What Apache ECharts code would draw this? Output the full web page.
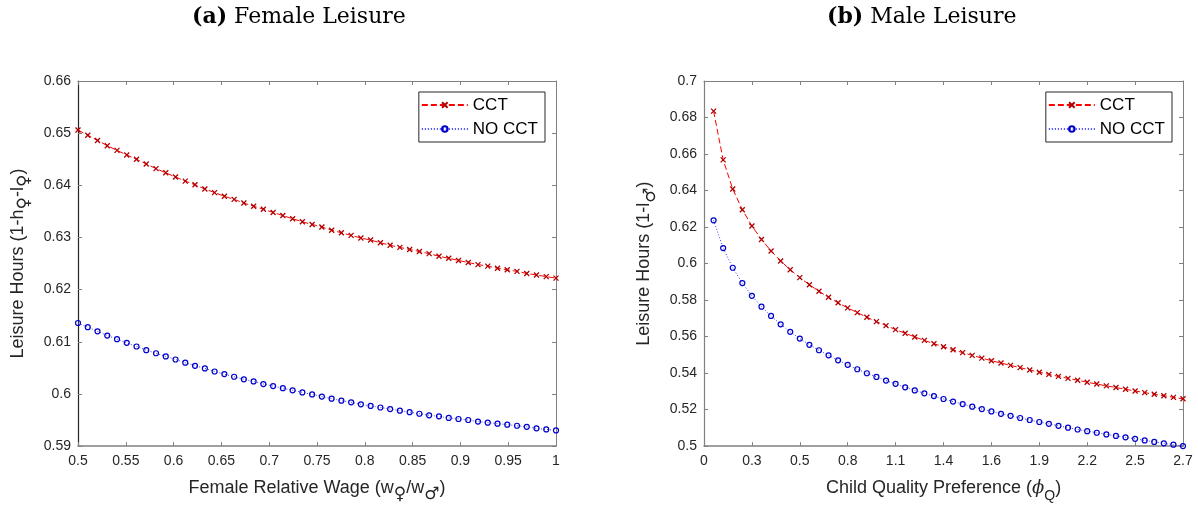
<!DOCTYPE html>
<html>
<head>
<meta charset="utf-8">
<title>Leisure</title>
<script src="https://cdn.jsdelivr.net/npm/echarts@6/dist/echarts.min.js"></script>
<style>
    html, body { margin: 0; padding: 0; background: #fff; }
    #main { width: 1198px; height: 508px; }
</style>
</head>
<body>
<div id="main"></div>
<script>
// (a) Female Leisure: x = female relative wage
var wageX = [0.5000, 0.5102, 0.5204, 0.5306, 0.5408, 0.5510, 0.5612, 0.5714, 0.5816, 0.5918,
    0.6020, 0.6122, 0.6224, 0.6327, 0.6429, 0.6531, 0.6633, 0.6735, 0.6837, 0.6939,
    0.7041, 0.7143, 0.7245, 0.7347, 0.7449, 0.7551, 0.7653, 0.7755, 0.7857, 0.7959,
    0.8061, 0.8163, 0.8265, 0.8367, 0.8469, 0.8571, 0.8673, 0.8776, 0.8878, 0.8980,
    0.9082, 0.9184, 0.9286, 0.9388, 0.9490, 0.9592, 0.9694, 0.9796, 0.9898, 1.0000];
var femaleCCT = [0.6506, 0.6496, 0.6486, 0.6476, 0.6467, 0.6458, 0.6450, 0.6441, 0.6432, 0.6424,
    0.6416, 0.6408, 0.6401, 0.6393, 0.6386, 0.6379, 0.6373, 0.6366, 0.6360, 0.6354,
    0.6348, 0.6342, 0.6336, 0.6330, 0.6325, 0.6320, 0.6314, 0.6309, 0.6304, 0.6299,
    0.6295, 0.6290, 0.6285, 0.6281, 0.6277, 0.6273, 0.6269, 0.6264, 0.6260, 0.6256,
    0.6252, 0.6248, 0.6245, 0.6241, 0.6238, 0.6235, 0.6231, 0.6228, 0.6225, 0.6222];
var femaleNoCCT = [0.6136, 0.6128, 0.6120, 0.6112, 0.6105, 0.6098, 0.6091, 0.6084, 0.6078, 0.6072,
    0.6066, 0.6060, 0.6054, 0.6049, 0.6043, 0.6038, 0.6033, 0.6028, 0.6024, 0.6019,
    0.6015, 0.6011, 0.6007, 0.6003, 0.5999, 0.5995, 0.5991, 0.5987, 0.5984, 0.5980,
    0.5977, 0.5974, 0.5971, 0.5968, 0.5965, 0.5962, 0.5959, 0.5957, 0.5954, 0.5952,
    0.5950, 0.5947, 0.5945, 0.5943, 0.5941, 0.5939, 0.5937, 0.5934, 0.5932, 0.5930];

// (b) Male Leisure: x = child quality preference
var phiX = [0.0546, 0.1092, 0.1638, 0.2184, 0.2730, 0.3276, 0.3822, 0.4368, 0.4914, 0.5460,
    0.6006, 0.6552, 0.7098, 0.7644, 0.8190, 0.8736, 0.9282, 0.9828, 1.0374, 1.0920,
    1.1466, 1.2012, 1.2558, 1.3104, 1.3650, 1.4196, 1.4742, 1.5288, 1.5834, 1.6380,
    1.6926, 1.7472, 1.8018, 1.8564, 1.9110, 1.9656, 2.0202, 2.0748, 2.1294, 2.1840,
    2.2386, 2.2932, 2.3478, 2.4024, 2.4570, 2.5116, 2.5662, 2.6208, 2.6754, 2.7300];
var maleCCT = [0.6835, 0.6568, 0.6408, 0.6295, 0.6206, 0.6132, 0.6069, 0.6014, 0.5966, 0.5923,
    0.5884, 0.5848, 0.5815, 0.5785, 0.5757, 0.5731, 0.5706, 0.5682, 0.5660, 0.5638,
    0.5618, 0.5598, 0.5579, 0.5561, 0.5544, 0.5528, 0.5512, 0.5497, 0.5482, 0.5468,
    0.5455, 0.5442, 0.5430, 0.5417, 0.5405, 0.5393, 0.5382, 0.5371, 0.5361, 0.5350,
    0.5340, 0.5330, 0.5321, 0.5311, 0.5302, 0.5293, 0.5284, 0.5276, 0.5267, 0.5259];
var maleNoCCT = [0.6237, 0.6085, 0.5977, 0.5893, 0.5823, 0.5764, 0.5713, 0.5667, 0.5626, 0.5589,
    0.5555, 0.5525, 0.5497, 0.5470, 0.5445, 0.5421, 0.5399, 0.5379, 0.5359, 0.5341,
    0.5322, 0.5305, 0.5289, 0.5274, 0.5258, 0.5244, 0.5230, 0.5216, 0.5203, 0.5190,
    0.5177, 0.5166, 0.5154, 0.5143, 0.5132, 0.5122, 0.5111, 0.5101, 0.5091, 0.5082,
    0.5073, 0.5064, 0.5056, 0.5048, 0.5040, 0.5031, 0.5023, 0.5015, 0.5008, 0.5000];

var seriesNames = ['CCT', 'NO CCT'];

var SANS = 'Liberation Sans, Arial, DejaVu Sans, sans-serif';
var SERIF = 'DejaVu Serif, serif';
var TXT = '#262626';

function pairs(xs, ys) {
    return xs.map(function (x, i) { return [x, ys[i]]; });
}

function trim(v, d) {
    return String(parseFloat(v.toFixed(d)));
}

// 下标: s = 字母, g = ♀ / ♂
var nameStyle = {
    fontFamily: SANS, fontSize: 18, color: TXT, lineHeight: 30,
    rich: {
        s: { fontFamily: SANS, fontSize: 14, color: TXT, lineHeight: 14, verticalAlign: 'bottom' },
        g: { fontFamily: 'DejaVu Sans', fontSize: 17, color: TXT, lineHeight: 15, verticalAlign: 'bottom' },
        i: { fontFamily: SERIF, fontStyle: 'italic', fontSize: 18, color: TXT, lineHeight: 30 }
    }
};

function xAxisPair(grid, min, max, interval, name, fmt) {
    return [{
        type: 'value', gridIndex: grid, position: 'bottom',
        min: min, max: max, interval: interval,
        name: name, nameLocation: 'middle', nameGap: 26, nameTextStyle: nameStyle,
        axisLine: { onZero: false, lineStyle: { color: '#808080', width: 1.5 } },
        axisTick: { inside: true, length: 4, lineStyle: { color: '#808080' } },
        axisLabel: { margin: 8, fontFamily: SANS, fontSize: 14, color: TXT, formatter: fmt },
        splitLine: { show: false }
    }, {
        type: 'value', gridIndex: grid, position: 'top',
        min: min, max: max, interval: interval,
        axisLine: { onZero: false, lineStyle: { color: '#808080', width: 1 } },
        axisTick: { inside: true, length: 4, lineStyle: { color: '#808080' } },
        axisLabel: { show: false },
        splitLine: { show: false }
    }];
}

function yAxisPair(grid, min, max, interval, name, lineColor) {
    return [{
        type: 'value', gridIndex: grid, position: 'left',
        min: min, max: max, interval: interval,
        name: name, nameLocation: 'middle', nameGap: 45, nameTextStyle: nameStyle,
        axisLine: { show: true, onZero: false, lineStyle: { color: lineColor, width: 1.2 } },
        axisTick: { show: true, inside: true, length: 4, lineStyle: { color: '#808080' } },
        axisLabel: { margin: 7, fontFamily: SANS, fontSize: 14, color: TXT,
            formatter: function (v) { return trim(v, 2); } },
        splitLine: { show: false }
    }, {
        type: 'value', gridIndex: grid, position: 'right',
        min: min, max: max, interval: interval,
        axisLine: { show: true, onZero: false, lineStyle: { color: '#808080', width: 1 } },
        axisTick: { show: true, inside: true, length: 4, lineStyle: { color: '#808080' } },
        axisLabel: { show: false },
        splitLine: { show: false }
    }];
}

// 红色虚线 + x 标记 / 蓝色点线 + 空心圆
function cctSeries(xi, yi, data) {
    return {
        name: seriesNames[0], type: 'line', xAxisIndex: xi, yAxisIndex: yi,
        data: data, symbol: 'path://M0,0L10,10M10,0L0,10', symbolSize: 5,
        itemStyle: { color: '#b00000', borderColor: '#b00000', borderWidth: 1.3 },
        lineStyle: { color: '#ff0000', width: 1, type: [6, 3] },
        emphasis: { disabled: true }, animation: false, z: 3
    };
}
function noCctSeries(xi, yi, data) {
    return {
        name: seriesNames[1], type: 'line', xAxisIndex: xi, yAxisIndex: yi,
        data: data, symbol: 'circle', symbolSize: 5,
        itemStyle: { color: 'rgba(255,255,255,0)', borderColor: '#0000cc', borderWidth: 1.2 },
        lineStyle: { color: '#3838ff', width: 1, type: [1, 2] },
        emphasis: { disabled: true }, animation: false, z: 2
    };
}

function legendAt(right) {
    return {
        data: seriesNames, orient: 'vertical', right: right, top: 92,
        backgroundColor: '#fff', borderColor: TXT, borderWidth: 1,
        padding: [3, 7, 3, 2], itemWidth: 46, itemHeight: 7, itemGap: 4,
        textStyle: { fontFamily: SANS, fontSize: 17, color: '#000', lineHeight: 20 },
        selectedMode: false
    };
}

var titleRich = {
    b: { fontFamily: SERIF, fontSize: 22, fontWeight: 'bold', color: '#000', lineHeight: 30 }
};

var myChart = echarts.init(document.getElementById('main'), null, { renderer: 'canvas' });
myChart.setOption({
    backgroundColor: '#fff',
    animation: false,
    title: [{
        text: '{b|(a)} Female Leisure', left: 192, top: 2, padding: 0,
        textStyle: { fontFamily: SERIF, fontSize: 22, fontWeight: 'normal', color: '#000', lineHeight: 30, rich: titleRich }
    }, {
        text: '{b|(b)} Male Leisure', left: 827, top: 2, padding: 0,
        textStyle: { fontFamily: SERIF, fontSize: 22, fontWeight: 'normal', color: '#000', lineHeight: 30, rich: titleRich }
    }],
    legend: [legendAt(653), legendAt(26)],
    grid: [
        { left: 78, right: 642, top: 81, bottom: 61 },
        { left: 704, right: 15, top: 81, bottom: 61 }
    ],
    xAxis: xAxisPair(0, 0.5, 1, 0.05, 'Female Relative Wage (w{g|♀}/w{g|♂})',
            function (v) { return trim(v, 2); })
        .concat(xAxisPair(1, 0, 2.73, 0.273, 'Child Quality Preference ({i|ϕ}{s|Q})',
            function (v) { return trim(v, 1); })),
    yAxis: yAxisPair(0, 0.59, 0.66, 0.01, 'Leisure Hours (1-h{g|♀}-l{g|♀})', TXT)
        .concat(yAxisPair(1, 0.5, 0.7, 0.02, 'Leisure Hours (1-l{g|♂})', '#808080')),
    series: [
        cctSeries(0, 0, pairs(wageX, femaleCCT)),
        noCctSeries(0, 0, pairs(wageX, femaleNoCCT)),
        cctSeries(2, 2, pairs(phiX, maleCCT)),
        noCctSeries(2, 2, pairs(phiX, maleNoCCT))
    ]
});
</script>
</body>
</html>
